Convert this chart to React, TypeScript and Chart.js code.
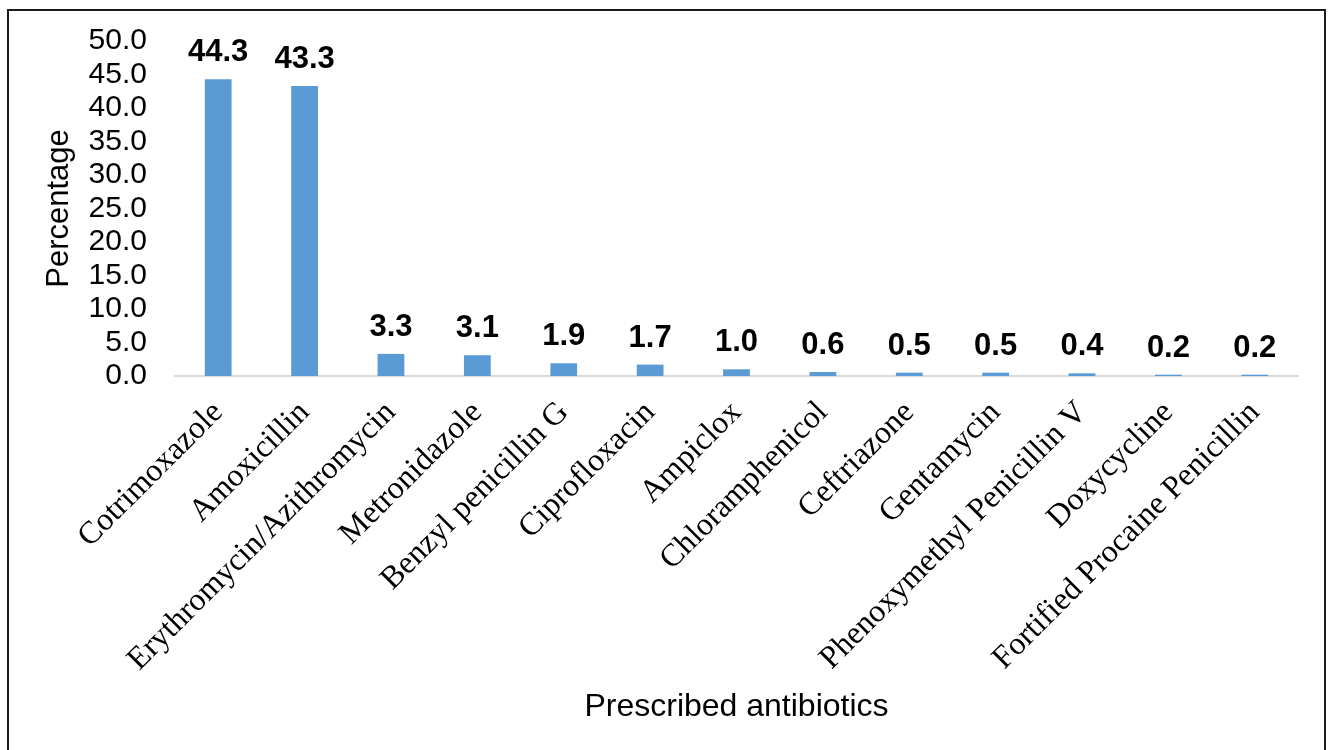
import React, { useEffect, useRef } from "react";
import { Chart, registerables } from "chart.js";

Chart.register(...registerables);

const categories: string[] = [
  "Cotrimoxazole",
  "Amoxicillin",
  "Erythromycin/Azithromycin",
  "Metronidazole",
  "Benzyl penicillin G",
  "Ciprofloxacin",
  "Ampiclox",
  "Chloramphenicol",
  "Ceftriazone",
  "Gentamycin",
  "Phenoxymethyl Penicillin V",
  "Doxycycline",
  "Fortified Procaine Penicillin",
];

const percentages: number[] = [44.3, 43.3, 3.3, 3.1, 1.9, 1.7, 1.0, 0.6, 0.5, 0.5, 0.4, 0.2, 0.2];

const yTitle = "Percentage";
const xTitle = "Prescribed antibiotics";
const yMin = 0;
const yMax = 50;
const yStep = 5;

const SANS = "'Liberation Sans', Arial, sans-serif";
const SERIF = "'Liberation Serif', 'Times New Roman', serif";

const framePlugin = {
  id: "frame",
  beforeDraw(chart: any) {
    const { ctx, width, height } = chart;
    ctx.save();
    ctx.fillStyle = "#ffffff";
    ctx.fillRect(0, 0, width, height);
    ctx.strokeStyle = "#1a1a1a";
    ctx.lineWidth = 2;
    ctx.strokeRect(8, 10, 1317, 750);
    ctx.restore();
  },
};

const valueLabelPlugin = {
  id: "valueLabels",
  afterDatasetsDraw(chart: any) {
    const { ctx } = chart;
    const meta = chart.getDatasetMeta(0);
    const data = chart.data.datasets[0].data as number[];
    ctx.save();
    ctx.fillStyle = "#000000";
    ctx.font = `bold 31px ${SANS}`;
    ctx.textAlign = "center";
    ctx.textBaseline = "alphabetic";
    meta.data.forEach((bar: any, i: number) => {
      ctx.fillText(data[i].toFixed(1), bar.x, bar.y - 18);
    });
    ctx.restore();
  },
};

export default function App() {
  const canvasRef = useRef<HTMLCanvasElement | null>(null);

  useEffect(() => {
    const canvas = canvasRef.current;
    if (!canvas) return;
    const chart = new Chart(canvas, {
      type: "bar",
      data: {
        labels: categories,
        datasets: [
          {
            data: percentages,
            backgroundColor: "#5B9BD5",
            borderWidth: 0,
            barPercentage: 0.31,
            categoryPercentage: 1,
          },
        ],
      },
      options: {
        responsive: false,
        animation: false,
        devicePixelRatio: 1,
        layout: { padding: { left: 0, top: 41, right: 34, bottom: 0 } },
        plugins: {
          legend: { display: false },
          tooltip: { enabled: false },
          title: { display: false },
        },
        scales: {
          x: {
            grid: { display: false, drawTicks: false },
            border: { display: true, color: "#d9d9d9", width: 2 },
            ticks: {
              autoSkip: false,
              maxRotation: 45,
              minRotation: 45,
              padding: 18,
              color: "#000000",
              font: { family: SERIF, size: 32 },
            },
            title: {
              display: true,
              text: xTitle,
              color: "#000000",
              font: { family: SANS, size: 32 },
              padding: { top: 0, bottom: 24 },
            },
            afterFit(scale: any) {
              scale.height = 374;
              scale.paddingLeft = 0;
              scale.paddingRight = 0;
            },
          },
          y: {
            min: yMin,
            max: yMax,
            grid: { display: false, drawTicks: false },
            border: { display: false },
            ticks: {
              autoSkip: false,
              stepSize: yStep,
              padding: 28,
              color: "#000000",
              font: { family: SANS, size: 30 },
              callback: (v: any) => Number(v).toFixed(1),
            },
            title: {
              display: true,
              text: yTitle,
              color: "#000000",
              font: { family: SANS, size: 31 },
              padding: { top: 41, bottom: 0 },
            },
            afterFit(scale: any) {
              scale.width = 175;
              scale.paddingTop = 0;
              scale.paddingBottom = 0;
            },
          },
        },
      },
      plugins: [framePlugin, valueLabelPlugin],
    });
    return () => chart.destroy();
  }, []);

  return (
    <div style={{ position: "absolute", left: 0, top: 0, width: 1332, height: 750 }}>
      <canvas ref={canvasRef} width={1332} height={750} />
    </div>
  );
}
